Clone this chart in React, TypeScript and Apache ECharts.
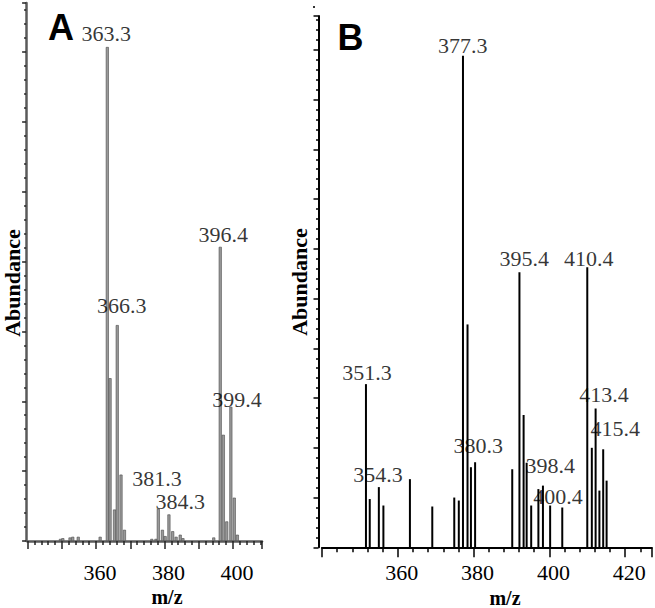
import React, { useEffect, useRef } from "react";
import * as echarts from "echarts";

// Panel A spectrum (m/z, abundance)
const mzA = [349.6, 350.3, 352.4, 353.2, 354.8, 361.2, 363.3, 364.1, 365.4, 366.2, 367.3, 368.3, 376.3, 377.5, 378.2, 379.4, 380.2, 381.3, 382.4, 383.4, 384.6, 385.4, 394.4, 396.3, 397.2, 398.2, 399.4, 400.4, 401.3];
const abA = [0.3, 0.4, 0.5, 0.6, 0.6, 0.6, 70.7, 23.3, 4.5, 30.9, 9.5, 1.6, 0.3, 0.3, 4.6, 1.6, 0.7, 3.8, 1.4, 0.6, 0.9, 0.4, 0.5, 42.1, 15.2, 2.8, 19.2, 6.2, 0.9];

// Panel B spectrum
const mzB = [351.6, 352.6, 355.0, 356.2, 363.2, 369.1, 374.9, 376.1, 377.2, 378.4, 379.3, 380.4, 390.2, 392.1, 393.2, 394.0, 395.2, 397.1, 398.3, 400.2, 403.4, 410.0, 411.2, 412.2, 413.2, 414.2, 415.1];
const abB = [32.8, 9.7, 12.1, 8.4, 13.7, 8.2, 10.0, 9.4, 98.8, 44.8, 16.1, 17.1, 15.7, 55.3, 26.6, 17.0, 8.4, 11.7, 12.4, 8.4, 8.0, 56.3, 20.0, 27.9, 11.4, 19.7, 13.4];

// Peak annotations
const peakTextA = ["363.3", "366.3", "381.3", "384.3", "396.4", "399.4"];
const peakXA = [363.0, 367.5, 377.8, 384.6, 397.2, 401.2];
const peakYA = [72.6, 33.7, 8.9, 5.7, 43.9, 20.3];

const peakTextB = ["351.3", "354.3", "377.3", "380.3", "395.4", "398.4", "400.4", "410.4", "413.4", "415.4"];
const peakXB = [351.9, 354.8, 377.15, 381.2, 393.4, 400.2, 402.3, 410.4, 414.4, 417.4];
const peakYB = [35.2, 14.7, 100.9, 20.5, 58.1, 16.5, 10.2, 58.1, 30.7, 23.9];

// Tick labels shown
const tickLabelsA = [360, 380, 400];
const tickLabelsB = [360, 380, 400, 420];

const SERIF = '"Liberation Serif", "Times New Roman", serif';

export default function App() {
  const ref = useRef<HTMLDivElement>(null);
  useEffect(() => {
    document.body.style.margin = "0";
    const chart = echarts.init(ref.current!, null, { renderer: "svg" });
    const labelStyle = {
      show: true,
      position: "inside",
      formatter: (p: any) => p.name,
      fontSize: 22,
      fontFamily: SERIF,
      color: "#000",
    };
    chart.setOption({
      animation: false,
      backgroundColor: "#fff",
      grid: [
        { left: 27.6, top: 3, width: 234.4, height: 538 },
        { left: 322, top: 16, width: 329.7, height: 531.3 },
      ],
      xAxis: [
        {
          type: "value",
          gridIndex: 0,
          min: 340,
          max: 408.5,
          interval: 10,
          axisLine: { show: true, onZero: false, lineStyle: { color: "#5a5a5a", width: 2.5 } },
          axisTick: { show: true, inside: false, length: 8, lineStyle: { color: "#222", width: 1.5 } },
          minorTick: { show: true, splitNumber: 5, length: 4, lineStyle: { color: "#222", width: 1.5 } },
          axisLabel: {
            margin: 20,
            fontSize: 22,
            fontFamily: SERIF,
            color: "#000",
            padding: [0, 0, 0, 8],
            formatter: (v: number) => (tickLabelsA.includes(v) ? String(v) : ""),
          },
          splitLine: { show: false },
        },
        {
          type: "value",
          gridIndex: 1,
          min: 340,
          max: 427,
          interval: 20,
          axisLine: { show: true, onZero: false, lineStyle: { color: "#000", width: 2 } },
          axisTick: { show: true, inside: false, length: 10, lineStyle: { color: "#000", width: 1.5 } },
          minorTick: { show: true, splitNumber: 5, length: 5, lineStyle: { color: "#000", width: 1.5 } },
          axisLabel: {
            margin: 14,
            fontSize: 22,
            fontFamily: SERIF,
            color: "#000",
            padding: [0, 0, 0, 8],
            formatter: (v: number) => (tickLabelsB.includes(v) ? String(v) : ""),
          },
          splitLine: { show: false },
        },
      ],
      yAxis: [
        {
          type: "value",
          gridIndex: 0,
          min: 0,
          max: 77,
          interval: 10,
          offset: 1.5,
          axisLine: { show: true, lineStyle: { color: "#5a5a5a", width: 2.5 } },
          axisTick: { show: true, inside: false, length: 4, lineStyle: { color: "#222", width: 1.5 } },
          minorTick: { show: true, splitNumber: 5, length: 2, lineStyle: { color: "#222", width: 1.5 } },
          axisLabel: { show: false },
          splitLine: { show: false },
        },
        {
          type: "value",
          gridIndex: 1,
          min: 0,
          max: 106.8,
          interval: 10,
          offset: 3.5,
          axisLine: { show: true, lineStyle: { color: "#000", width: 2 } },
          axisTick: { show: true, inside: false, length: 5, lineStyle: { color: "#000", width: 1.5 } },
          minorTick: { show: true, splitNumber: 5, length: 2.5, lineStyle: { color: "#000", width: 1.5 } },
          axisLabel: { show: false },
          splitLine: { show: false },
        },
      ],
      series: [
        {
          type: "bar",
          xAxisIndex: 0,
          yAxisIndex: 0,
          barWidth: 3,
          silent: true,
          itemStyle: { color: "#999", borderColor: "#4a4a4a", borderWidth: 0.6 },
          data: mzA.map((m, i) => [m, abA[i]]),
        },
        {
          type: "bar",
          xAxisIndex: 1,
          yAxisIndex: 1,
          barWidth: 2,
          silent: true,
          itemStyle: { color: "#000" },
          data: mzB.map((m, i) => [m, abB[i]]),
        },
        {
          type: "scatter",
          xAxisIndex: 0,
          yAxisIndex: 0,
          symbolSize: 0,
          silent: true,
          label: labelStyle,
          data: peakTextA.map((t, i) => ({ name: t, value: [peakXA[i], peakYA[i]] })),
        },
        {
          type: "scatter",
          xAxisIndex: 1,
          yAxisIndex: 1,
          symbolSize: 0,
          silent: true,
          label: labelStyle,
          data: peakTextB.map((t, i) => ({ name: t, value: [peakXB[i], peakYB[i]] })),
        },
      ],
      graphic: [
        {
          type: "text",
          x: 61,
          y: 27,
          style: { text: "A", fontSize: 36, fontWeight: "bold", fontFamily: '"Liberation Sans", Arial, sans-serif', fill: "#000", align: "center", verticalAlign: "middle" },
        },
        {
          type: "text",
          x: 350.5,
          y: 37,
          style: { text: "B", fontSize: 36, fontWeight: "bold", fontFamily: '"Liberation Sans", Arial, sans-serif', fill: "#000", align: "center", verticalAlign: "middle" },
        },
        {
          type: "text",
          x: 167,
          y: 597,
          style: { text: "m/z", fontSize: 20, fontWeight: "bold", fontFamily: SERIF, fill: "#000", align: "center", verticalAlign: "middle" },
        },
        {
          type: "text",
          x: 505,
          y: 598,
          style: { text: "m/z", fontSize: 20, fontWeight: "bold", fontFamily: SERIF, fill: "#000", align: "center", verticalAlign: "middle" },
        },
        {
          type: "text",
          x: 12,
          y: 283,
          rotation: Math.PI / 2,
          style: { text: "Abundance", fontSize: 22, fontWeight: "bold", fontFamily: SERIF, fill: "#000", align: "center", verticalAlign: "middle" },
        },
        {
          type: "text",
          x: 299,
          y: 282,
          rotation: Math.PI / 2,
          style: { text: "Abundance", fontSize: 22, fontWeight: "bold", fontFamily: SERIF, fill: "#000", align: "center", verticalAlign: "middle" },
        },
        {
          type: "rect",
          shape: { x: 313, y: 6, width: 2, height: 2 },
          style: { fill: "#333" },
        },
      ],
    });
    return () => chart.dispose();
  }, []);
  return <div ref={ref} style={{ width: 655, height: 608 }} />;
}
